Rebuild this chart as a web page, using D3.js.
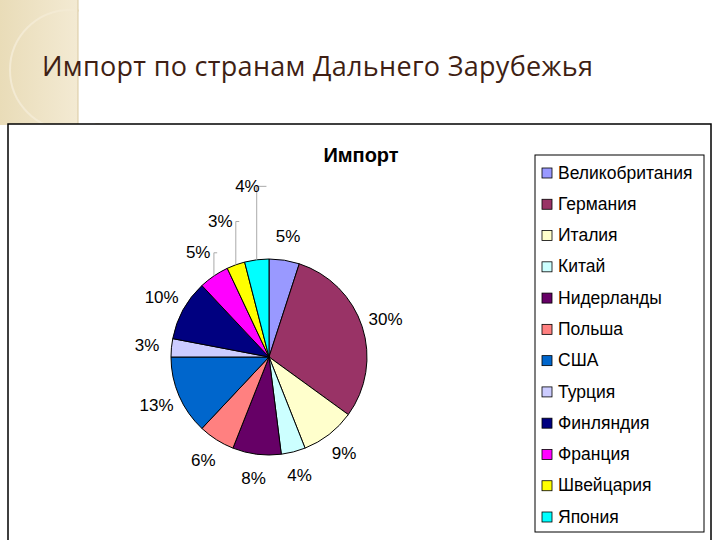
<!DOCTYPE html>
<html><head><meta charset="utf-8">
<script src="https://cdn.jsdelivr.net/npm/d3@7"></script>
<style>body{margin:0;background:#fff}</style>
</head><body>
<svg id="chart" width="720" height="540"></svg>
<script>
var countries = ["Великобритания","Германия","Италия","Китай","Нидерланды","Польша","США","Турция","Финляндия","Франция","Швейцария","Япония"];
var shares = [5,30,9,4,8,6,13,3,10,5,3,4];
var colors = ["#9999FF","#993366","#FFFFCC","#CCFFFF","#660066","#FF8080","#0066CC","#CCCCFF","#000080","#FF00FF","#FFFF00","#00FFFF"];

var svg = d3.select('#chart');

// decorative strip at the left of the slide
var grad = svg.append('defs').append('linearGradient').attr('id','strip');
grad.append('stop').attr('offset','0').attr('stop-color','#e9dcb8');
grad.append('stop').attr('offset','1').attr('stop-color','#f3ead3');
svg.append('rect').attr('width',78).attr('height',125).attr('fill','url(#strip)');
svg.append('circle').attr('cx',70).attr('cy',70).attr('r',60).attr('fill','none').attr('stroke','#f3ead3').attr('stroke-width',2)
  .attr('clip-path','inset(0 0 0 0)');
svg.append('line').attr('x1',78).attr('x2',78).attr('y1',0).attr('y2',125).attr('stroke','#d9c9a0');
svg.append('rect').attr('x',79).attr('width',641).attr('height',123).attr('fill','#fff');

svg.append('text').attr('x',42).attr('y',76)
  .style('font-family','"Open Sans", sans-serif').style('font-size','27px').style('fill','#3f1f14')
  .style('letter-spacing','0.3px')
  .text('Импорт по странам Дальнего Зарубежья');

// chart area
svg.append('rect').attr('x',8).attr('y',124).attr('width',703).attr('height',420)
  .attr('fill','#fff').attr('stroke','#000').attr('stroke-width',1.5);

svg.append('text').attr('x',361).attr('y',162).attr('text-anchor','middle')
  .style('font-family','"Liberation Sans", Arial, sans-serif').style('font-size','20px').style('font-weight','bold')
  .text('Импорт');

var cx = 269, cy = 357, r = 98;
var pie = d3.pie().sort(null).value(d => d);
var arcs = pie(shares);
var arc = d3.arc().innerRadius(0).outerRadius(r);
var g = svg.append('g').attr('transform','translate('+cx+','+cy+')');

g.selectAll('path').data(arcs).join('path')
  .attr('d', arc)
  .attr('fill', (d,i) => colors[i])
  .attr('stroke','#000').attr('stroke-width',1);

var font = '"Liberation Sans", Arial, sans-serif';

// label distance; the crowded top slices are pulled outward with leader lines
function labelRadius(i){
  if (i === 9) return r + 28;
  if (i === 10) return r + 46;
  if (i === 11) return r + 74;
  return r * 1.25;
}
arcs.forEach(function(d,i){
  var a = (d.startAngle + d.endAngle)/2;
  var lr = labelRadius(i);
  var x = Math.sin(a)*lr, y = -Math.cos(a)*lr;
  if (i >= 9) {
    var ex = Math.sin(a)*r, ey = -Math.cos(a)*r;
    g.append('path')
      .attr('d','M'+ex+','+ey+'L'+ex+','+y+'L'+(x+19)+','+y)
      .attr('fill','none').attr('stroke','#aaa').attr('stroke-width',1);
  }
  g.append('text').attr('x',x).attr('y',y+1).attr('text-anchor','middle')
    .attr('dominant-baseline','middle')
    .style('font-family',font).style('font-size','17px')
    .text(shares[i] + '%');
});

// legend
var legend = svg.append('g');
legend.append('rect').attr('x',535).attr('y',155).attr('width',169).attr('height',377)
  .attr('fill','#fff').attr('stroke','#000');
var ly = d3.scalePoint().domain(countries).range([173,517]);
var items = legend.selectAll('g.item').data(countries).join('g').attr('class','item')
  .attr('transform', d => 'translate(542,' + ly(d) + ')');
items.append('rect').attr('x',0).attr('y',-5).attr('width',10).attr('height',10)
  .attr('fill',(d,i) => colors[i]).attr('stroke','#000').attr('stroke-width',0.8);
items.append('text').attr('x',16).attr('y',1).attr('dominant-baseline','middle')
  .style('font-family',font).style('font-size','17.5px')
  .text(d => d);
</script>
</body></html>
